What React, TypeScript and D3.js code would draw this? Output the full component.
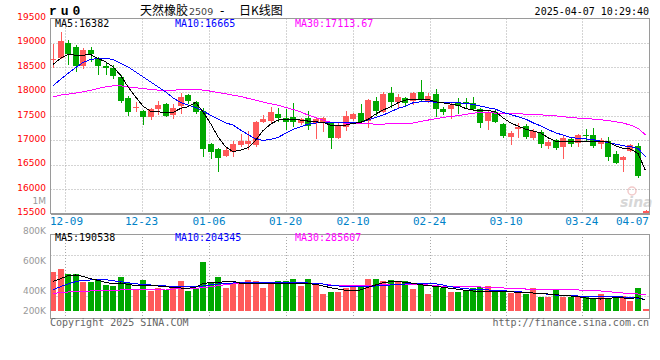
import React from "react";
import * as d3 from "d3";

// daily K data, 80 sessions (12-05 .. 04-07)
const opens = [
  18650, 18680, 18994, 18912, 18529, 18850, 18680, 18529, 18488, 18303,
  17873, 17670, 17601, 17484, 17642, 17744, 17518, 17703, 17928, 17791,
  17601, 16924, 16822, 16685, 16767, 16904, 16920, 16899, 17381, 17395,
  17535, 17460, 17470, 17348, 17464, 17349, 17381, 17348, 17054, 17279,
  17430, 17553, 17396, 17806, 17586, 17976, 17779, 17873, 17812, 17996,
  17812, 17949, 17635, 17641, 17758, 17780, 17758, 17641, 17402, 17573,
  17334, 17074, 17225, 17293, 17041, 17177, 16884, 17006, 16870, 17020,
  16939, 17115, 17109, 16918, 16986, 16713, 16597, 16787, 16890, 15420,
];
const highs = [
  18970, 19213, 19061, 18953, 18885, 18912, 18713, 18611, 18543, 18338,
  17908, 17791, 17622, 17656, 17805, 17758, 17744, 17963, 17942, 17805,
  17669, 16938, 16836, 16869, 16986, 17123, 17200, 17395, 17518, 17689,
  17656, 17635, 17771, 17464, 17607, 17484, 17471, 17361, 17348, 17601,
  17553, 17738, 17847, 17894, 17996, 18098, 17943, 17894, 17996, 18236,
  17963, 18045, 17689, 17758, 17861, 17870, 17894, 17655, 17600, 17641,
  17348, 17197, 17361, 17327, 17225, 17211, 17006, 17027, 17095, 17061,
  17123, 17225, 17246, 17041, 17075, 16787, 16672, 16924, 16951, 15580,
];
const lows = [
  18480, 18660, 18543, 18406, 18455, 18611, 18338, 18338, 18256, 17758,
  17504, 17574, 17314, 17416, 17518, 17484, 17437, 17533, 17744, 17533,
  16664, 16617, 16357, 16664, 16664, 16857, 16810, 16856, 17348, 17348,
  17381, 17211, 17279, 17313, 17211, 17027, 17177, 16815, 17020, 17190,
  17396, 17348, 17246, 17498, 17553, 17656, 17656, 17689, 17723, 17791,
  17758, 17471, 17518, 17430, 17533, 17660, 17614, 17258, 17211, 17348,
  17041, 16904, 17041, 17020, 17006, 16836, 16822, 16802, 16617, 16870,
  16870, 16992, 16836, 16822, 16576, 16508, 16344, 16767, 16221, 15380,
];
const closes = [
  18660, 19041, 18762, 18529, 18857, 18762, 18523, 18488, 18324, 17805,
  17586, 17680, 17484, 17635, 17724, 17498, 17656, 17894, 17812, 17574,
  16822, 16754, 16631, 16802, 16924, 16993, 16980, 17381, 17436, 17573,
  17460, 17381, 17381, 17430, 17300, 17436, 17450, 17054, 17313, 17498,
  17533, 17369, 17826, 17607, 17943, 17779, 17881, 17771, 17976, 17826,
  17908, 17635, 17586, 17723, 17709, 17765, 17641, 17360, 17573, 17381,
  17088, 17156, 17279, 17074, 17197, 16918, 16973, 16850, 17054, 16924,
  17109, 17105, 16884, 17006, 16664, 16529, 16651, 16904, 16275, 15560,
];
const volumes = [
  688000, 735000, 653000, 653000, 513000, 513000, 555000, 455000, 443000, 600000,
  485000, 385000, 543000, 355000, 408000, 368000, 438000, 525000, 350000, 385000,
  863000, 502000, 600000, 408000, 485000, 485000, 543000, 525000, 408000, 485000,
  525000, 525000, 560000, 443000, 560000, 485000, 298000, 338000, 338000, 408000,
  443000, 443000, 560000, 560000, 525000, 543000, 513000, 525000, 385000, 485000,
  298000, 443000, 397000, 338000, 338000, 355000, 408000, 425000, 443000, 368000,
  368000, 320000, 338000, 298000, 408000, 250000, 250000, 380000, 250000, 250000,
  240000, 240000, 210000, 298000, 233000, 222000, 263000, 180000, 408000, 40000,
];

const ma5 = [
  18557, 18680, 18762, 18748, 18748, 18762, 18680, 18611, 18508, 18338,
  18098, 17894, 17703, 17600, 17586, 17573, 17573, 17655, 17689, 17779,
  17586, 17348, 17074, 16869, 16767, 16801, 16849, 17002, 17199, 17334,
  17416, 17430, 17430, 17416, 17396, 17381, 17369, 17314, 17299, 17314,
  17348, 17369, 17430, 17539, 17621, 17689, 17771, 17826, 17847, 17847,
  17840, 17791, 17770, 17745, 17720, 17655, 17621, 17621, 17614, 17586,
  17463, 17361, 17293, 17232, 17191, 17156, 17054, 16986, 16972, 16986,
  16986, 16979, 16986, 16986, 16972, 16890, 16836, 16822, 16733, 16382,
];
const ma10 = [
  18119, 18250, 18373, 18488, 18598, 18660, 18680, 18680, 18660, 18578,
  18508, 18406, 18303, 18201, 18098, 17996, 17873, 17779, 17723, 17676,
  17600, 17518, 17437, 17361, 17314, 17211, 17123, 17027, 17000, 17020,
  17061, 17143, 17225, 17279, 17334, 17355, 17369, 17369, 17369, 17361,
  17361, 17375, 17416, 17471, 17518, 17586, 17655, 17703, 17771, 17791,
  17791, 17785, 17779, 17779, 17771, 17758, 17738, 17703, 17669, 17641,
  17573, 17533, 17484, 17437, 17361, 17299, 17225, 17156, 17109, 17061,
  17041, 17033, 17013, 16986, 16952, 16924, 16890, 16869, 16836, 16665,
];
const ma30 = [
  17889, 17928, 17949, 17969, 17996, 18025, 18066, 18098, 18119, 18119,
  18098, 18078, 18066, 18045, 18031, 18031, 18031, 18037, 18045, 18045,
  18031, 18010, 17983, 17955, 17928, 17901, 17861, 17826, 17785, 17750,
  17723, 17676, 17635, 17586, 17518, 17471, 17416, 17375, 17361, 17355,
  17348, 17348, 17340, 17334, 17334, 17340, 17348, 17348, 17355, 17389,
  17416, 17443, 17471, 17492, 17504, 17533, 17560, 17566, 17566, 17560,
  17553, 17546, 17546, 17539, 17533, 17525, 17512, 17504, 17484, 17471,
  17457, 17450, 17437, 17423, 17409, 17381, 17355, 17314, 17246, 17113.67,
];
const volMa5 = [
  520000, 565000, 618000, 630000, 607000, 565000, 537000, 502000, 478000, 490000,
  467000, 443000, 455000, 443000, 438000, 425000, 415000, 403000, 397000, 415000,
  478000, 502000, 502000, 513000, 525000, 485000, 485000, 478000, 473000, 473000,
  473000, 478000, 485000, 485000, 478000, 467000, 438000, 408000, 385000, 362000,
  355000, 368000, 415000, 455000, 495000, 513000, 513000, 502000, 485000, 460000,
  443000, 432000, 415000, 397000, 380000, 362000, 350000, 350000, 350000, 350000,
  345000, 338000, 327000, 320000, 315000, 310000, 298000, 285000, 275000, 263000,
  250000, 228000, 215000, 210000, 222000, 233000, 228000, 222000, 233000, 190538,
];
const volMa10 = [
  373000, 425000, 473000, 513000, 537000, 543000, 555000, 548000, 530000, 513000,
  495000, 478000, 460000, 455000, 443000, 438000, 425000, 425000, 425000, 425000,
  438000, 455000, 473000, 485000, 490000, 495000, 495000, 495000, 495000, 495000,
  495000, 495000, 495000, 495000, 490000, 485000, 473000, 443000, 438000, 432000,
  425000, 425000, 432000, 438000, 443000, 455000, 467000, 473000, 478000, 485000,
  485000, 478000, 455000, 425000, 408000, 390000, 380000, 368000, 368000, 362000,
  355000, 345000, 338000, 327000, 315000, 310000, 292000, 280000, 280000, 275000,
  263000, 250000, 250000, 250000, 250000, 250000, 245000, 240000, 222000, 204345,
];
const volMa30 = [
  310000, 320000, 333000, 338000, 345000, 350000, 355000, 362000, 362000, 368000,
  368000, 368000, 373000, 380000, 380000, 385000, 385000, 390000, 390000, 397000,
  408000, 425000, 443000, 460000, 478000, 485000, 485000, 485000, 485000, 485000,
  485000, 485000, 485000, 485000, 485000, 478000, 473000, 455000, 455000, 455000,
  455000, 455000, 455000, 455000, 460000, 467000, 467000, 467000, 467000, 460000,
  455000, 443000, 432000, 425000, 425000, 425000, 425000, 420000, 415000, 408000,
  403000, 397000, 390000, 385000, 385000, 385000, 385000, 380000, 380000, 373000,
  368000, 362000, 355000, 350000, 338000, 327000, 315000, 310000, 298000, 285607,
];

const dateLabels = ["12-09", "12-23", "01-06", "01-20", "02-10", "02-24", "03-10", "03-24", "04-07"];
// where the grid line of each date label sits, in session units
const datePos = [1.6, 11.8, 20.8, 31, 40, 50.2, 60.4, 70.5, 79];
const priceTicks = [19500, 19000, 18500, 18000, 17500, 17000, 16500, 16000, 15500];
const volTickLabels = ["800K", "600K", "400K", "200K"];
const volTickValues = [800000, 600000, 400000, 200000];

const RED = "#ff5a5a";
const GREEN = "#00a800";
const GRID = "#a8a8a8";
const FRAME = "#9a9a9a";
const MONO = "'DejaVu Sans Mono', monospace";
const SANS = "'DejaVu Sans', sans-serif";

export default function App() {
  const n = closes.length;
  const left = 50.5;
  const right = 649.5;
  const x = d3.scaleLinear().domain([0, n - 1]).range([53, 645.5]);
  const y = d3.scaleLinear().domain([15500, 19500]).range([213.5, 18.5]);
  const vy = d3.scaleLinear().domain([0, 1347500]).range([311, 234]);
  const volLabelY = d3
    .scaleLinear()
    .domain([200000, 400000, 600000, 800000])
    .range([314, 294, 264.3, 234]);
  const volGrid = d3.scaleLinear().domain([0, 4]).range([234, 316]);

  const priceLine = d3
    .line<number>()
    .x((_d, i) => x(i))
    .y((d) => y(d));
  const volLine = d3
    .line<number>()
    .x((_d, i) => x(i))
    .y((d) => vy(d));

  const px = (v: number) => Math.round(v) + 0.5;

  return (
    <div style={{ position: "absolute", left: 0, top: 0 }}>
      <svg width={660} height={360} style={{ display: "block", background: "#fff" }}>
        <defs>
          <clipPath id="mainClip">
            <rect x={51} y={19} width={598} height={194} />
          </clipPath>
          <clipPath id="volClip">
            <rect x={51} y={234.5} width={598} height={83} />
          </clipPath>
        </defs>

        {/* header */}
        <text
          x={49}
          y={15}
          fontFamily="'Liberation Mono', monospace"
          fontWeight="bold"
          fontSize={13}
          style={{ letterSpacing: "3.9px" }}
          fill="#000"
        >
          ru0
        </text>
        <text y={15} fontSize={12} fill="#000" fontFamily="'Noto Sans CJK SC', sans-serif">
          <tspan x={140}>天然橡胶</tspan>
          <tspan x={189} fontFamily={SANS} fontSize={9.5} fill="#444">2509</tspan>
          <tspan x={220} fontFamily={SANS}>-</tspan>
          <tspan x={239}>日K线图</tspan>
        </text>
        <text x={649} y={15} textAnchor="end" fontFamily={MONO} fontSize={10} fill="#000">
          2025-04-07 10:29:40
        </text>

        {/* price panel grid */}
        {priceTicks.slice(1, -1).map((t) => (
          <line
            key={t}
            x1={left}
            x2={right}
            y1={px(y(t))}
            y2={px(y(t))}
            stroke={GRID}
            strokeDasharray="1 2"
          />
        ))}
        {datePos.slice(0, -1).map((p, i) => (
          <g key={i}>
            <line
              x1={px(x(p))}
              x2={px(x(p))}
              y1={18.5}
              y2={213}
              stroke={GRID}
              strokeDasharray="1 2"
            />
            <line
              x1={px(x(p))}
              x2={px(x(p))}
              y1={234}
              y2={318}
              stroke={GRID}
              strokeDasharray="1 2"
            />
          </g>
        ))}
        {[1, 2, 3].map((k) => (
          <line
            key={k}
            x1={left}
            x2={right}
            y1={px(volGrid(k))}
            y2={px(volGrid(k))}
            stroke={GRID}
            strokeDasharray="1 2"
          />
        ))}

        {/* watermark */}
        <g opacity={0.55}>
          <circle cx={632} cy={191} r={4} fill="none" stroke="#e8a0a0" strokeWidth={1.5} />
          <text
            x={620}
            y={207}
            fontFamily={SANS}
            fontStyle="italic"
            fontWeight="bold"
            fontSize={14}
            fill="#b8b8b8"
          >
            sina
          </text>
        </g>

        {/* candles */}
        <g clipPath="url(#mainClip)" shapeRendering="crispEdges">
          {closes.map((c, i) => {
            const o = opens[i];
            const col = c > o ? RED : GREEN;
            const cx = Math.round(x(i));
            const top = Math.round(y(Math.max(o, c)));
            const bot = Math.round(y(Math.min(o, c)));
            const hi = Math.round(y(highs[i]));
            const lo = Math.round(y(lows[i]));
            return (
              <g key={i} fill={col}>
                <rect x={cx} y={hi} width={1} height={Math.max(1, lo - hi)} />
                <rect x={cx - 3} y={top} width={6} height={Math.max(1, bot - top)} />
              </g>
            );
          })}
          <path d={priceLine(ma30) || ""} fill="none" stroke="#ff00ff" strokeWidth={1} />
          <path d={priceLine(ma10) || ""} fill="none" stroke="#0000ff" strokeWidth={1} />
          <path d={priceLine(ma5) || ""} fill="none" stroke="#000" strokeWidth={1} />
        </g>

        {/* volume bars */}
        <g clipPath="url(#volClip)" shapeRendering="crispEdges">
          {volumes.map((v, i) => {
            const cx = Math.round(x(i));
            const top = Math.round(vy(v));
            return (
              <rect
                key={i}
                x={cx - 3}
                y={top}
                width={6}
                height={Math.max(1, 311 - top)}
                fill={closes[i] > opens[i] ? RED : GREEN}
              />
            );
          })}
          <path d={volLine(volMa30) || ""} fill="none" stroke="#ff00ff" strokeWidth={1} />
          <path d={volLine(volMa10) || ""} fill="none" stroke="#0000ff" strokeWidth={1} />
          <path d={volLine(volMa5) || ""} fill="none" stroke="#000" strokeWidth={1} />
        </g>

        {/* frames */}
        <g shapeRendering="crispEdges">
          <rect x={left} y={18.5} width={right - left} height={195} fill="none" stroke={FRAME} />
          <line x1={left} x2={right + 0.5} y1={213.5} y2={213.5} stroke={FRAME} strokeWidth={2} />
          <rect x={left} y={234.5} width={right - left} height={84} fill="none" stroke={FRAME} />
        </g>

        {/* MA labels */}
        <g fontFamily={MONO} fontSize={10}>
          <text x={55} y={27} fill="#000">MA5:16382</text>
          <text x={175} y={27} fill="#0000ff">MA10:16665</text>
          <text x={295} y={27} fill="#ff00ff">MA30:17113.67</text>
          <text x={55} y={241} fill="#000">MA5:190538</text>
          <text x={175} y={241} fill="#0000ff">MA10:204345</text>
          <text x={295} y={241} fill="#ff00ff">MA30:285607</text>
        </g>

        {/* price axis labels */}
        <g fontFamily={SANS} fontSize={9} textAnchor="end">
          {priceTicks.map((t) => (
            <text key={t} x={46} y={y(t) + 1.5} fill="#ff0000">
              {t}
            </text>
          ))}
          <text x={46} y={204} fill="#999">1M</text>
          {volTickValues.map((v, i) => (
            <text key={v} x={46} y={volLabelY(v)} fill="#999">
              {volTickLabels[i]}
            </text>
          ))}
        </g>

        {/* date labels */}
        <g fontFamily={MONO} fontSize={11} fill="#0082c8">
          {dateLabels.map((d, i) => {
            const last = i === dateLabels.length - 1;
            const cx = Math.max(50 + 16.5, x(datePos[i]));
            return (
              <text
                key={d}
                x={last ? 649 : cx}
                y={225}
                textAnchor={last ? "end" : "middle"}
              >
                {d}
              </text>
            );
          })}
        </g>

        {/* footer */}
        <g fontFamily={MONO} fontSize={10} fill="#666">
          <text x={50} y={326}>Copyright 2025 SINA.COM</text>
          <text x={649} y={326} textAnchor="end">http://finance.sina.com.cn</text>
        </g>
      </svg>
    </div>
  );
}
